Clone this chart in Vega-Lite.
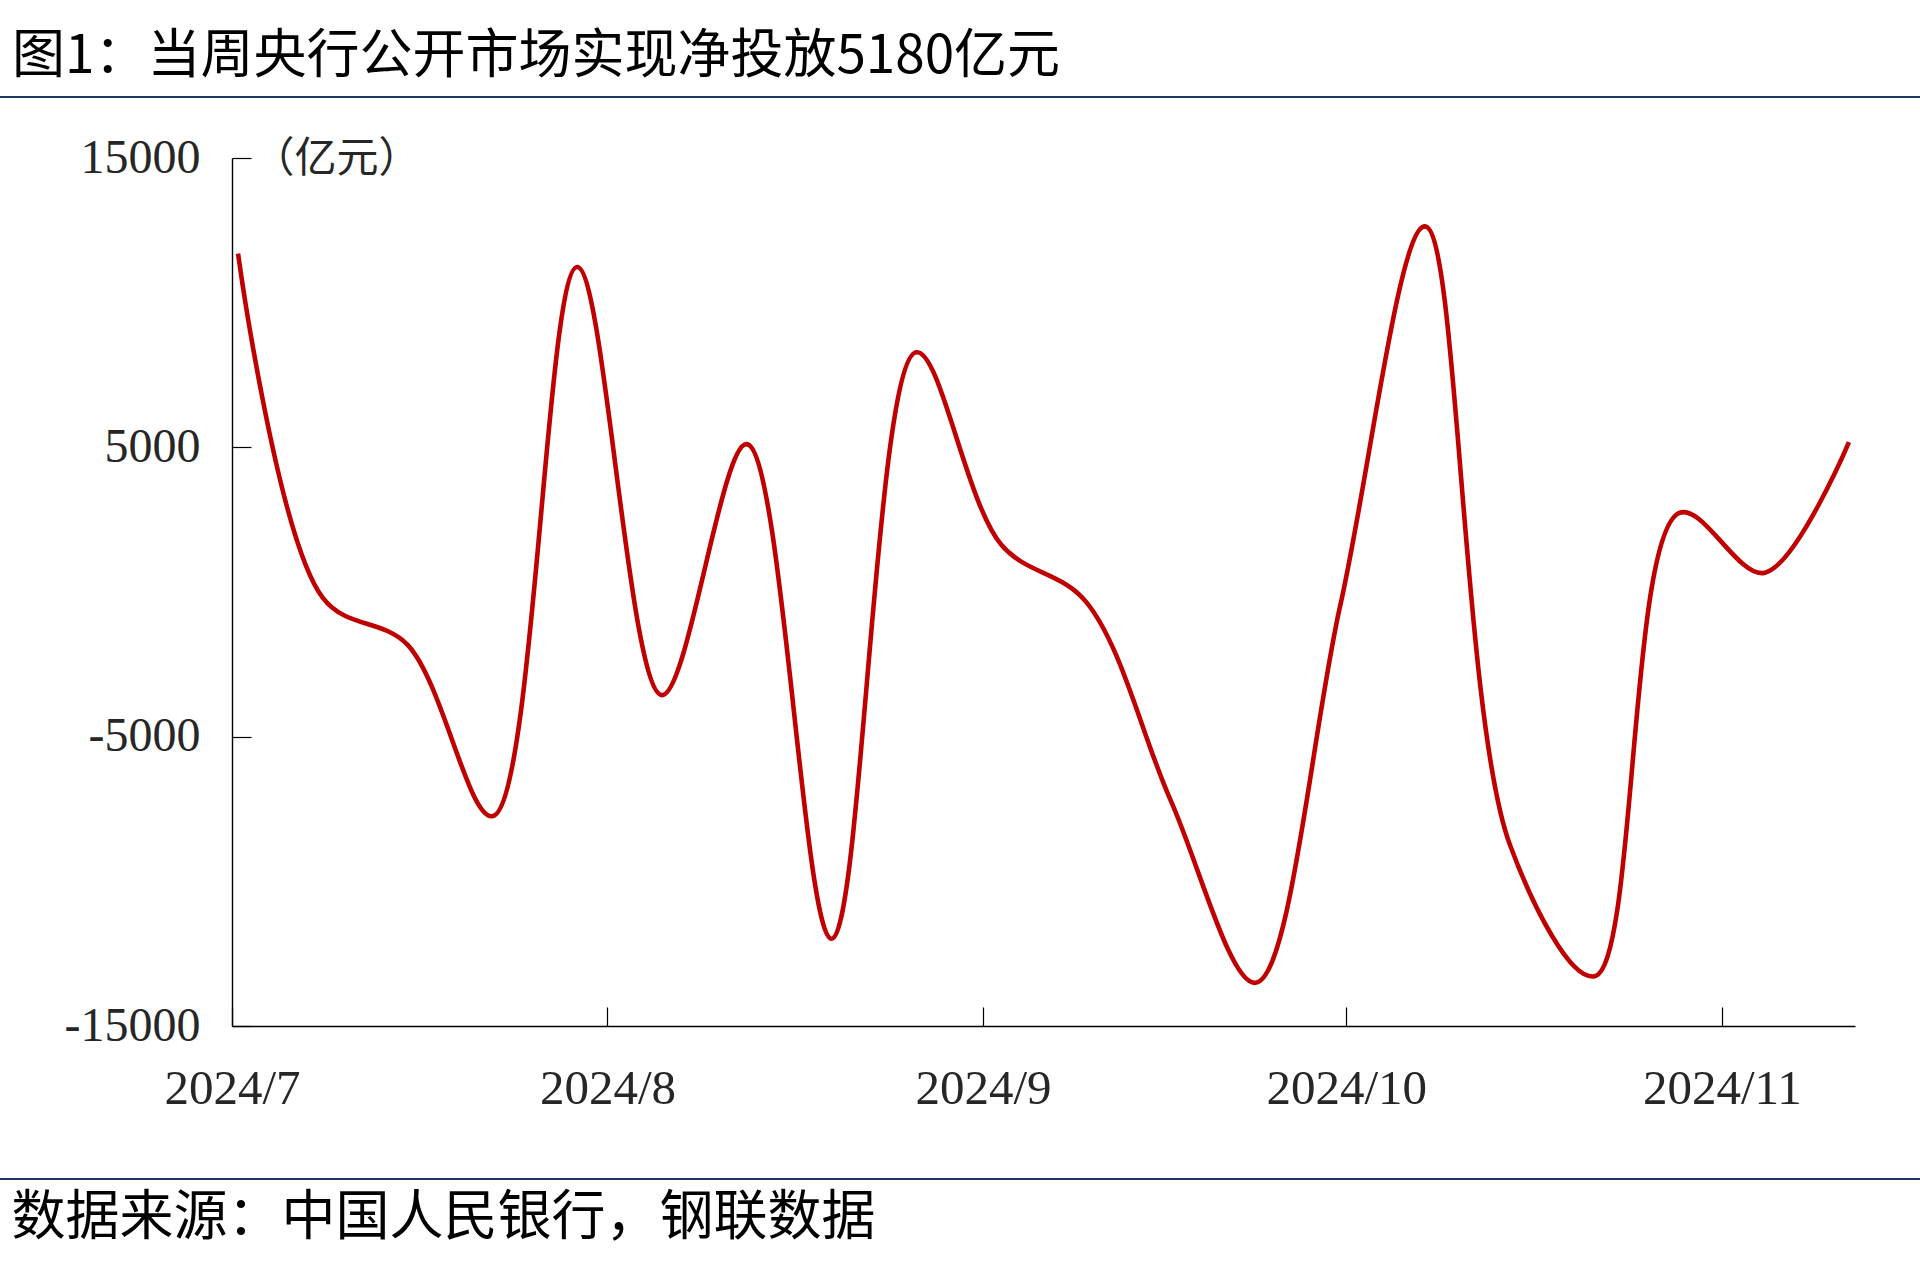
{
  "$schema": "https://vega.github.io/schema/vega-lite/v6.json",
  "width": 1623,
  "height": 868,
  "autosize": "none",
  "padding": {"left": 232, "top": 158, "right": 65, "bottom": 253},
  "background": "white",
  "title": {
    "text": "图1：当周央行公开市场实现净投放5180亿元",
    "anchor": "start",
    "frame": "group",
    "dx": -220,
    "offset": 12,
    "font": "Noto Sans CJK SC",
    "fontSize": 53,
    "fontWeight": "normal",
    "color": "#000000"
  },
  "data": {
    "values": [
      {"date": "2024-07-01", "value": 11693},
      {"date": "2024-07-08", "value": -204},
      {"date": "2024-07-15", "value": -1828},
      {"date": "2024-07-22", "value": -7750},
      {"date": "2024-07-29", "value": 11234},
      {"date": "2024-08-05", "value": -3563},
      {"date": "2024-08-12", "value": 5110},
      {"date": "2024-08-19", "value": -11983},
      {"date": "2024-08-26", "value": 8283},
      {"date": "2024-09-02", "value": 1641},
      {"date": "2024-09-09", "value": -332},
      {"date": "2024-09-16", "value": -7200},
      {"date": "2024-09-23", "value": -13507},
      {"date": "2024-09-30", "value": -470},
      {"date": "2024-10-07", "value": 12636},
      {"date": "2024-10-14", "value": -8728},
      {"date": "2024-10-21", "value": -13279},
      {"date": "2024-10-28", "value": 2733},
      {"date": "2024-11-04", "value": 660},
      {"date": "2024-11-11", "value": 5180}
    ]
  },
  "layer": [
    {
      "mark": {"type": "line", "color": "#C00000", "strokeWidth": 4.6, "interpolate": "catmull-rom"},
      "encoding": {
        "x": {
          "field": "date",
          "type": "temporal",
          "timeUnit": "utcyearmonthdate",
          "bandPosition": 0.5,
          "scale": {"type": "utc", "domain": [{"year": 2024, "month": 7, "date": 1, "utc": true}, {"year": 2024, "month": 11, "date": 12, "utc": true}]},
          "axis": {
            "values": [
              {"year": 2024, "month": 7, "date": 1, "utc": true},
              {"year": 2024, "month": 8, "date": 1, "utc": true},
              {"year": 2024, "month": 9, "date": 1, "utc": true},
              {"year": 2024, "month": 10, "date": 1, "utc": true},
              {"year": 2024, "month": 11, "date": 1, "utc": true}
            ],
            "labelExpr": "utcFormat(datum.value, '%Y') + '/' + (utcmonth(datum.value) + 1)",
            "grid": false,
            "domainColor": "#000000",
            "domainWidth": 1.4,
            "tickColor": "#000000",
            "tickWidth": 1.2,
            "tickSize": -19,
            "labelPadding": 81,
            "labelBaseline": "middle",
            "labelAlign": "center",
            "labelDx": 8,
            "labelFont": "Liberation Serif",
            "labelFontSize": 49,
            "labelColor": "#262626",
            "labelFlush": false,
            "labelOverlap": false,
            "title": "数据来源：中国人民银行，钢联数据",
            "titleFont": "Noto Sans CJK SC",
            "titleFontSize": 54,
            "titleFontWeight": "normal",
            "titleColor": "#000000",
            "titleAnchor": "start",
            "titleAlign": "left",
            "titleBaseline": "middle",
            "titleX": -221,
            "titleY": 192
          }
        },
        "y": {
          "field": "value",
          "type": "quantitative",
          "scale": {"domain": [-15000, 15000], "nice": false, "zero": false},
          "axis": {
            "values": [-15000, -5000, 5000, 15000],
            "labelExpr": "datum.value + ''",
            "grid": false,
            "domainColor": "#000000",
            "domainWidth": 1.4,
            "tickColor": "#000000",
            "tickWidth": 1.2,
            "tickSize": -19,
            "labelPadding": 51,
            "labelBaseline": "middle",
            "labelFont": "Liberation Serif",
            "labelFontSize": 48,
            "labelColor": "#262626",
            "labelFlush": false,
            "labelOverlap": false,
            "title": "（亿元）",
            "titleFont": "Noto Sans CJK SC",
            "titleFontSize": 42,
            "titleFontWeight": "normal",
            "titleColor": "#262626",
            "titleAngle": 0,
            "titleAlign": "left",
            "titleBaseline": "middle",
            "titleX": 20,
            "titleY": 0
          }
        }
      }
    },
    {
      "mark": {"type": "rule", "color": "#1F3864", "strokeWidth": 1.3},
      "encoding": {
        "y": {"datum": 17108, "type": "quantitative"},
        "x": {"datum": {"year": 2024, "month": 6, "date": 1, "utc": true}, "type": "temporal"},
        "x2": {"datum": {"year": 2024, "month": 12, "date": 1, "utc": true}}
      }
    },
    {
      "mark": {"type": "rule", "color": "#1F3864", "strokeWidth": 1.3},
      "encoding": {
        "y": {"datum": -20280, "type": "quantitative"},
        "x": {"datum": {"year": 2024, "month": 6, "date": 1, "utc": true}, "type": "temporal"},
        "x2": {"datum": {"year": 2024, "month": 12, "date": 1, "utc": true}}
      }
    }
  ],
  "config": {
    "view": {"stroke": null}
  }
}
